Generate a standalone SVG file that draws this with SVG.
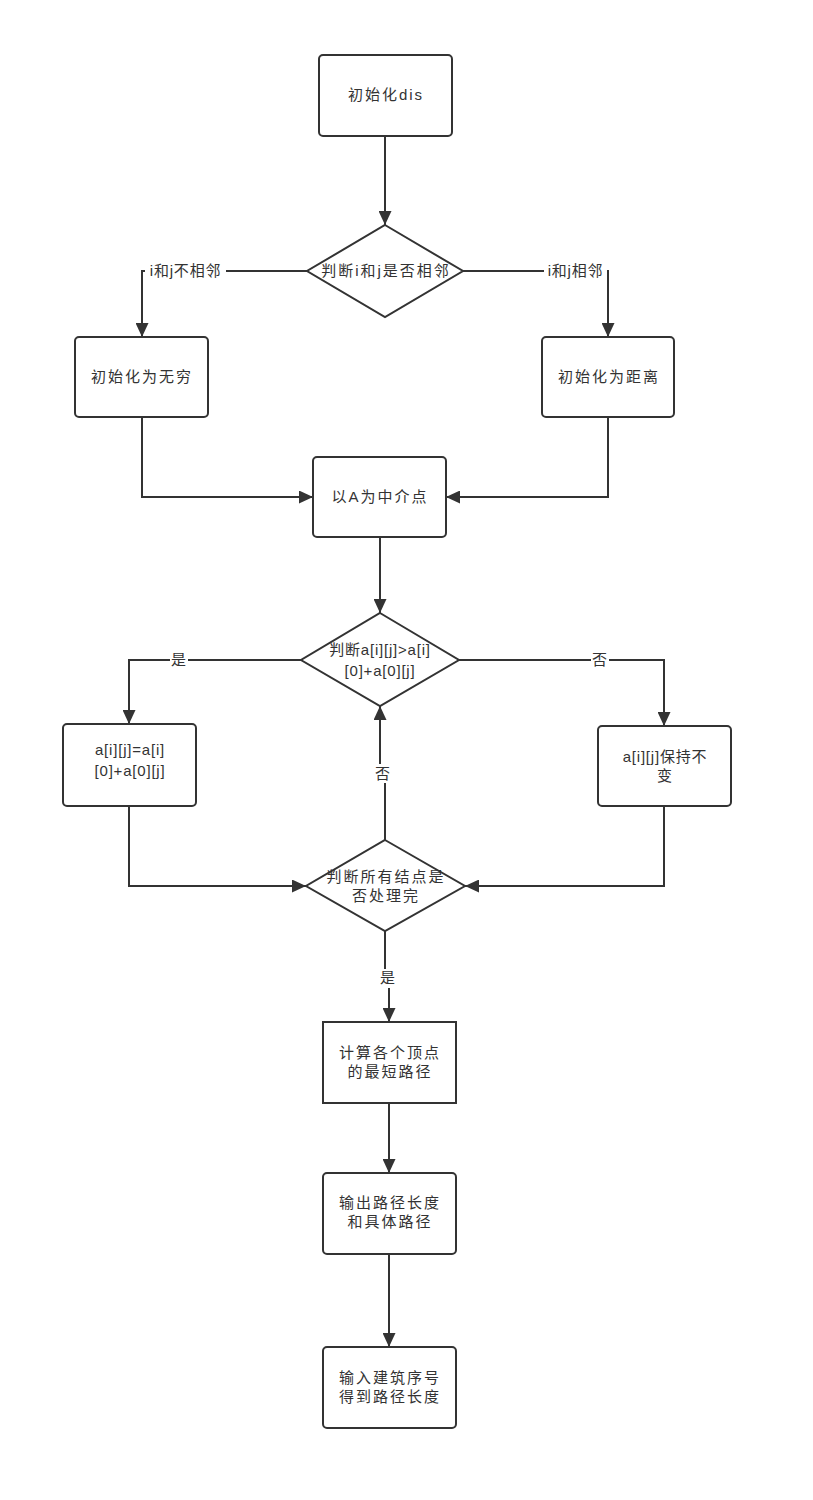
<svg xmlns="http://www.w3.org/2000/svg" width="813" height="1500" viewBox="0 0 813 1500">
<defs>
<marker id="arr" markerUnits="userSpaceOnUse" markerWidth="14" markerHeight="13" viewBox="0 0 14 13" refX="14" refY="6.5" orient="auto">
<path d="M0,0 L14,6.5 L0,13 Z" fill="#333"/>
</marker>
</defs>
<style>
.n{fill:#fff;stroke:#333;stroke-width:2}
.t{font-family:"Liberation Sans","Noto Sans CJK SC",sans-serif;font-size:15px;fill:#333;text-anchor:middle;letter-spacing:2px}
.l{font-family:"Liberation Sans","Noto Sans CJK SC",sans-serif;font-size:15px;fill:#333;text-anchor:middle;letter-spacing:0.8px}
.c{fill:none;stroke:#333;stroke-width:2}
.bg{fill:#fff}
</style>
<rect width="813" height="1500" fill="#fff"/>
<g id="connectors">
<path class="c" d="M385,136 V225" marker-end="url(#arr)"/>
<path class="c" d="M307,271 H142 V337" marker-end="url(#arr)"/>
<path class="c" d="M463,271 H608 V337" marker-end="url(#arr)"/>
<path class="c" d="M142,417 V497 H313" marker-end="url(#arr)"/>
<path class="c" d="M608,417 V497 H446" marker-end="url(#arr)"/>
<path class="c" d="M380,537 V613" marker-end="url(#arr)"/>
<path class="c" d="M301,660 H129 V724" marker-end="url(#arr)"/>
<path class="c" d="M459,660 H664 V726" marker-end="url(#arr)"/>
<path class="c" d="M129,806 V886 H306" marker-end="url(#arr)"/>
<path class="c" d="M664,806 V886 H465" marker-end="url(#arr)"/>
<path class="c" d="M385,840 V775 H380 V706" marker-end="url(#arr)"/>
<path class="c" d="M385,931 V978 H389 V1022" marker-end="url(#arr)"/>
<path class="c" d="M389,1103 V1173" marker-end="url(#arr)"/>
<path class="c" d="M389,1254 V1347" marker-end="url(#arr)"/>
<rect class="bg" x="145" y="262" width="81" height="18"/>
<text class="l" x="185.5" y="276">i和j不相邻</text>
<rect class="bg" x="544" y="262" width="63" height="18"/>
<text class="l" x="575.5" y="276">i和j相邻</text>
<rect class="bg" x="170" y="651" width="18" height="18"/>
<text class="l" x="179" y="665">是</text>
<rect class="bg" x="591" y="651" width="18" height="18"/>
<text class="l" x="600" y="665">否</text>
<rect class="bg" x="374" y="764" width="18" height="19"/>
<text class="l" x="383" y="779">否</text>
<rect class="bg" x="379" y="969" width="18" height="19"/>
<text class="l" x="388" y="983">是</text>
</g>
<g id="n1"><rect class="n" x="319" y="55" width="133" height="81" rx="4"/><text class="t" x="386" y="100">初始化dis</text></g>
<g id="d1"><path class="n" d="M385,225 L463,271 L385,317 L307,271 Z"/><text class="t" x="386" y="276">判断i和j是否相邻</text></g>
<g id="n2"><rect class="n" x="75" y="337" width="133" height="80" rx="4"/><text class="t" x="142" y="382">初始化为无穷</text></g>
<g id="n3"><rect class="n" x="542" y="337" width="132" height="80" rx="4"/><text class="t" x="609" y="382">初始化为距离</text></g>
<g id="n4"><rect class="n" x="313" y="457" width="133" height="80" rx="4"/><text class="t" x="380" y="502">以A为中介点</text></g>
<g id="d2"><path class="n" d="M380,613 L459,660 L380,706 L301,660 Z"/><text class="l" x="380" y="655">判断a[i][j]&gt;a[i]</text><text class="l" x="380" y="676">[0]+a[0][j]</text></g>
<g id="n5"><rect class="n" x="63" y="724" width="133" height="82" rx="4"/><text class="l" x="130" y="755">a[i][j]=a[i]</text><text class="l" x="130" y="776">[0]+a[0][j]</text></g>
<g id="n6"><rect class="n" x="598" y="726" width="133" height="80" rx="4"/><text class="l" x="665" y="762">a[i][j]保持不</text><text class="l" x="665" y="781">变</text></g>
<g id="d3"><path class="n" d="M385,840 L465,886 L385,931 L306,886 Z"/><text class="t" x="386" y="882">判断所有结点是</text><text class="t" x="386" y="901">否处理完</text></g>
<g id="n7"><rect class="n" x="323" y="1022" width="133" height="81"/><text class="t" x="390" y="1058">计算各个顶点</text><text class="t" x="390" y="1077">的最短路径</text></g>
<g id="n8"><rect class="n" x="323" y="1173" width="133" height="81" rx="4"/><text class="t" x="390" y="1208">输出路径长度</text><text class="t" x="390" y="1227">和具体路径</text></g>
<g id="n9"><rect class="n" x="323" y="1347" width="133" height="81" rx="4"/><text class="t" x="390" y="1383">输入建筑序号</text><text class="t" x="390" y="1402">得到路径长度</text></g>
</svg>
